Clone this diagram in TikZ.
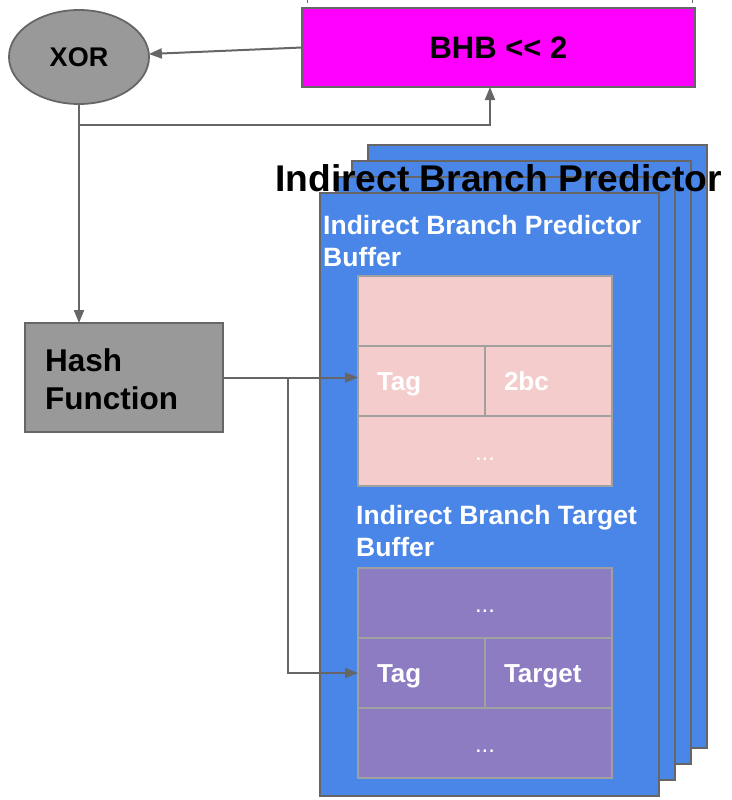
\documentclass[tikz,border=0pt]{standalone}
\usepackage{fontspec}
\setmainfont{Liberation Sans}
\usetikzlibrary{arrows.meta,shapes.geometric}

\definecolor{cardblue}{HTML}{4A86E8}
\definecolor{cellpink}{HTML}{F4CCCC}
\definecolor{cellpurple}{HTML}{8E7CC3}
\definecolor{shiftmag}{HTML}{FF00FF}
\definecolor{blockgray}{HTML}{999999}
\definecolor{edgegray}{HTML}{666666}
\definecolor{gridgray}{HTML}{A0A0A0}

\tikzset{
  block/.style={draw=edgegray, line width=1.8pt, inner sep=0pt, outer sep=0pt},
  card/.style={block, fill=cardblue, minimum width=339pt, minimum height=603pt},
  cell/.style={draw=gridgray, line width=1.8pt, outer sep=0pt, inner ysep=0pt,
    inner xsep=19pt, text=white, font=\bfseries\fontsize{26}{30}\selectfont,
    minimum height=70pt, text height=24pt, text depth=6pt},
  halfcell/.style={cell, text width=89pt, align=left},
  fullcell/.style={cell, text width=216pt, align=center},
  caption/.style={inner sep=0pt, text=white, align=left,
    font=\bfseries\fontsize{26.5}{32}\selectfont},
  conn/.style={draw=edgegray, line width=2pt,
    -{Triangle[length=13pt,width=10pt]}},
}

\begin{document}
\begin{tikzpicture}[x=1pt,y=-1pt]
\useasboundingbox (0,0) rectangle (731,800);

% edges of a box above the frame
\draw[draw=edgegray, line width=1pt] (307,0) -- (307,3);
\draw[draw=edgegray, line width=1pt] (692,0) -- (692,3);

% history shift and XOR
\node[block, fill=shiftmag, minimum width=393pt, minimum height=79pt,
  font=\bfseries\fontsize{31}{36}\selectfont] (bhb) at (498.5,47.5) {BHB <\kern0pt< 2};
\node[block, ellipse, fill=blockgray, minimum width=140pt, minimum height=94pt,
  font=\bfseries\fontsize{27}{30}\selectfont] (xor) at (79,57) {XOR};

% hash
\node[block, fill=blockgray, minimum width=198pt, minimum height=109pt] (hash) at (124,377.5) {};
\node[inner sep=0pt, anchor=north west, align=left,
  font=\bfseries\fontsize{31.5}{38}\selectfont] (hashtext) at (45,348) {Hash\\Function};

% stack of predictor cards, back to front
\node[card] (card4) at (537.5,446.5) {};
\node[card] (card3) at (521.5,462.5) {};
\node[card] (card2) at (505.5,478.5) {};
\node[card] (card1) at (489.5,494.5) {};

\node[anchor=base, inner sep=0pt, font=\bfseries\fontsize{37.2}{44}\selectfont]
  (title) at (498.5,191) {Indirect Branch Predictor};

% predictor buffer
\node[caption, anchor=north west] (ibpcap) at (323,215) {Indirect Branch Predictor\\Buffer};
\node[fullcell, fill=cellpink] (prow1) at (485,311) {};
\node[halfcell, fill=cellpink] (ptag) at (421.5,381) {Tag};
\node[halfcell, fill=cellpink] (pbc) at (548.5,381) {2bc};
\node[fullcell, fill=cellpink] (prow3) at (485,451) {\fontsize{24}{30}\mdseries ...};

% target buffer
\node[caption, anchor=north west] (ibtcap) at (356,505) {Indirect Branch Target\\Buffer};
\node[fullcell, fill=cellpurple] (qrow1) at (485,603) {\fontsize{24}{30}\mdseries ...};
\node[halfcell, fill=cellpurple] (qtag) at (421.5,673) {Tag};
\node[halfcell, fill=cellpurple] (qtgt) at (548.5,673) {Target};
\node[fullcell, fill=cellpurple] (qrow3) at (485,743) {\fontsize{24}{30}\mdseries ...};

% connectors
\draw[conn] (bhb.west) -- (xor);
\draw[conn] (xor.south) -- (xor.south |- hash.north);
\coordinate (split) at (79,125);
\coordinate (bhbin) at ([xshift=-8.5pt]bhb.south);
\draw[conn] (split) -| (bhbin);
\draw[conn] (hash.east) -- (hash.east -| ptag.west);
\coordinate (tap) at (288,378);
\draw[conn] (tap) |- (qtag.west);
\end{tikzpicture}
\end{document}
